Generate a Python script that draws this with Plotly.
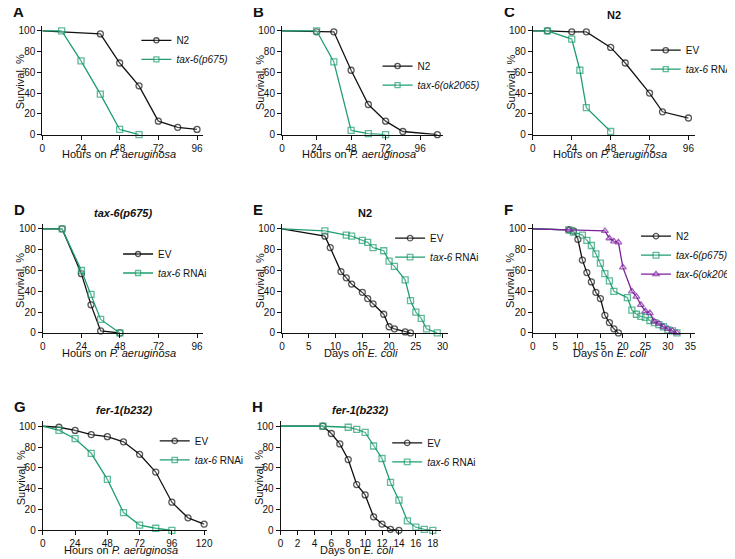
import plotly.graph_objects as go

W, H = 735, 559
BLACK = "#111111"; GREEN = "#1f9e6e"; PURPLE = "#7d1fa0"

# ---- data ----
A_n2_x = [0, 36, 48, 60, 72, 84, 96]; A_n2_y = [100, 97, 69, 47, 13, 7, 5]
A_t6_x = [0, 12, 24, 36, 48, 60]; A_t6_y = [100, 100, 71, 39, 5, 0]
B_n2_x = [0, 24, 36, 48, 60, 72, 84, 108]; B_n2_y = [100, 99, 99, 62, 29, 13, 3, 0]
B_t6_x = [0, 24, 36, 48, 60, 72]; B_t6_y = [100, 100, 70, 4, 1, 0]
C_ev_x = [0, 9, 24, 33, 48, 57, 72, 80, 96]; C_ev_y = [100, 100, 99, 99, 84, 69, 40, 22, 16]
C_t6_x = [0, 9, 24, 29, 33, 48]; C_t6_y = [100, 100, 92, 62, 26, 3]
D_ev_x = [0, 12, 24, 30, 36, 48]; D_ev_y = [100, 100, 57, 27, 2, 0]
D_t6_x = [0, 12, 24, 30, 36, 48]; D_t6_y = [100, 100, 60, 37, 13, 0]
E_ev_x = [0, 8, 9, 11, 12, 13, 15, 16, 17, 19, 20, 21, 23, 24]
E_ev_y = [100, 93, 82, 59, 53, 47, 39, 33, 28, 18, 6, 4, 1, 0]
E_t6_x = [0, 8, 12, 13, 15, 16, 17, 19, 20, 21, 23, 24, 25, 26, 27, 29]
E_t6_y = [100, 98, 94, 93, 89, 87, 82, 79, 69, 64, 51, 31, 20, 14, 4, 0]
F_n2_x = [0, 8, 9, 10, 11, 12, 13, 14, 15, 16, 17, 18, 19]
F_n2_y = [100, 99, 98, 90, 70, 58, 49, 39, 33, 17, 10, 4, 0]
F_p6_x = [0, 8, 9, 11, 12, 13, 14, 15, 16, 17, 18, 21, 22, 23, 24, 25, 26, 27, 28, 29, 30, 31, 32]
F_p6_y = [100, 99, 97, 94, 89, 84, 76, 67, 57, 50, 40, 34, 22, 18, 16, 15, 12, 10, 8, 6, 3, 2, 0]
F_ok_x = [0, 8, 16, 17, 18, 19, 20, 22, 23, 24, 25, 26, 27, 28, 29, 30, 31, 32]
F_ok_y = [100, 99, 98, 91, 88, 87, 63, 40, 35, 27, 21, 19, 11, 9, 6, 4, 2, 0]
G_ev_x = [0, 12, 24, 36, 48, 60, 72, 84, 96, 108, 120]; G_ev_y = [100, 99, 96, 92, 90, 85, 73, 56, 27, 12, 6]
G_t6_x = [0, 12, 24, 36, 48, 60, 72, 84, 96]; G_t6_y = [100, 96, 88, 74, 49, 17, 5, 2, 0]
H_ev_x = [0, 5, 6, 7, 8, 9, 10, 11, 12, 13, 14]; H_ev_y = [100, 100, 93, 83, 68, 44, 34, 13, 6, 1, 0]
H_t6_x = [0, 5, 8, 9, 10, 11, 12, 13, 14, 15, 16, 17, 18]; H_t6_y = [100, 100, 99, 97, 94, 81, 69, 46, 29, 9, 3, 1, 0]

FONT = "Liberation Sans, Arial, sans-serif"
fig = go.Figure()

hours = "Hours on <i>P. aeruginosa</i>"
days = "Days on <i>E. coli</i>"
panels = {
    "A": (32.5, 199.5, 17.8, 128, [0, 100], [0, 24, 48, 72, 96], hours),
    "B": (281, 448, 17.8, 128, [0, 112], [0, 24, 48, 72, 96], hours),
    "C": (541, 709, 17.8, 128, [0, 100], [0, 24, 48, 72, 96], hours),
    "D": (33, 199.5, 218, 328.5, [0, 100], [0, 24, 48, 72, 96], hours),
    "E": (281, 453, 218, 328.5, [0, 31], [0, 5, 10, 15, 20, 25, 30], days),
    "F": (541, 709, 218, 328.5, [0, 36], [0, 5, 10, 15, 20, 25, 30, 35], days),
    "G": (33, 203, 417.5, 528, [0, 122], [0, 24, 48, 72, 96, 120], hours),
    "H": (279.5, 446, 417.5, 528, [0, 19], list(range(0, 19, 2)), days),
}
legpos = {"A": (130, 18), "B": (380, 44), "C": (658, 28), "D": (111, 234),
          "E": (393, 218), "F": (648, 216), "G": (149, 423), "H": (390, 425)}

series = {
    "A": [("N2", A_n2_x, A_n2_y, BLACK, "circle"), ("<i>tax-6(p675)</i>", A_t6_x, A_t6_y, GREEN, "square")],
    "B": [("N2", B_n2_x, B_n2_y, BLACK, "circle"), ("<i>tax-6(ok2065)</i>", B_t6_x, B_t6_y, GREEN, "square")],
    "C": [("EV", C_ev_x, C_ev_y, BLACK, "circle"), ("<i>tax-6</i> RNAi", C_t6_x, C_t6_y, GREEN, "square")],
    "D": [("EV", D_ev_x, D_ev_y, BLACK, "circle"), ("<i>tax-6</i> RNAi", D_t6_x, D_t6_y, GREEN, "square")],
    "E": [("EV", E_ev_x, E_ev_y, BLACK, "circle"), ("<i>tax-6</i> RNAi", E_t6_x, E_t6_y, GREEN, "square")],
    "F": [("N2", F_n2_x, F_n2_y, BLACK, "circle"), ("<i>tax-6(p675)</i>", F_p6_x, F_p6_y, GREEN, "square"),
          ("<i>tax-6(ok2065)</i>", F_ok_x, F_ok_y, PURPLE, "triangle-up")],
    "G": [("EV", G_ev_x, G_ev_y, BLACK, "circle"), ("<i>tax-6</i> RNAi", G_t6_x, G_t6_y, GREEN, "square")],
    "H": [("EV", H_ev_x, H_ev_y, BLACK, "circle"), ("<i>tax-6</i> RNAi", H_t6_x, H_t6_y, GREEN, "square")],
}
titles = {"C": ("N2", False), "D": ("tax-6(p675)", True), "E": ("N2", False),
          "G": ("fer-1(b232)", True), "H": ("fer-1(b232)", True)}

layout = dict(width=W, height=H, margin=dict(l=0, r=0, t=0, b=0),
              paper_bgcolor="white", plot_bgcolor="white",
              font=dict(family=FONT, size=10, color=BLACK), annotations=[])

for i, (k, (x0, x1, yt, yb, xr, xt, xtitle)) in enumerate(panels.items()):
    n = i + 1
    xa = "xaxis" if n == 1 else f"xaxis{n}"
    ya = "yaxis" if n == 1 else f"yaxis{n}"
    lg = "legend" if n == 1 else f"legend{n}"
    common = dict(showgrid=False, zeroline=False, showline=True, linecolor=BLACK, linewidth=1.2,
                  ticks="outside", ticklen=4, tickwidth=1.2, tickcolor=BLACK,
                  tickfont=dict(size=10, family=FONT, color=BLACK))
    layout[xa] = dict(common, domain=[x0 / W, x1 / W], range=xr, tickvals=xt,
                      anchor=f"y{n}" if n > 1 else "y")
    layout[ya] = dict(common, domain=[1 - yb / H, 1 - yt / H], range=[0, 105],
                      tickvals=[0, 20, 40, 60, 80, 100], anchor=f"x{n}" if n > 1 else "x")
    lx, ly = legpos[k]
    layout[lg] = dict(x=lx / W, y=1 - ly / H, xanchor="left", yanchor="top",
                      bgcolor="rgba(0,0,0,0)", font=dict(size=10, family=FONT),
                      itemwidth=30, tracegroupgap=0)
    for name, xs, ys, col, sym in series[k]:
        sizes = [0] + [6] * (len(xs) - 1)
        fig.add_trace(go.Scatter(
            x=xs, y=ys, name=name, mode="lines+markers", legend=lg,
            xaxis=f"x{n}" if n > 1 else "x", yaxis=f"y{n}" if n > 1 else "y",
            line=dict(color=col, width=1.3), cliponaxis=False,
            marker=dict(symbol=sym, size=sizes, color="rgba(255,255,255,0.35)",
                        line=dict(color=col, width=1.3))))
    ann = layout["annotations"]
    ann.append(dict(text=f"<b>{k}</b>", x=(x0 - 32) / W, y=1 - (yt - 4) / H,
                    xref="paper", yref="paper", xanchor="left", yanchor="bottom",
                    showarrow=False, font=dict(size=15, family=FONT)))
    ann.append(dict(text=xtitle, x=((x0 + x1) / 2 - 4) / W, y=1 - (yb + 20) / H,
                    xref="paper", yref="paper", xanchor="center", yanchor="middle",
                    showarrow=False, font=dict(size=11, family=FONT)))
    ann.append(dict(text="Survival, %", x=(x0 - 23) / W, y=1 - ((yt + yb) / 2 + 2) / H,
                    xref="paper", yref="paper", xanchor="center", yanchor="middle", textangle=-90,
                    showarrow=False, font=dict(size=11, family=FONT)))
    if k in titles:
        t, it = titles[k]
        txt = f"<b><i>{t}</i></b>" if it else f"<b>{t}</b>"
        ann.append(dict(text=txt, x=((x0 + x1) / 2) / W, y=1 - (yt - 3) / H,
                        xref="paper", yref="paper", xanchor="center", yanchor="bottom",
                        showarrow=False, font=dict(size=11, family=FONT)))

fig.update_layout(**layout)
fig.write_html("out.html")
